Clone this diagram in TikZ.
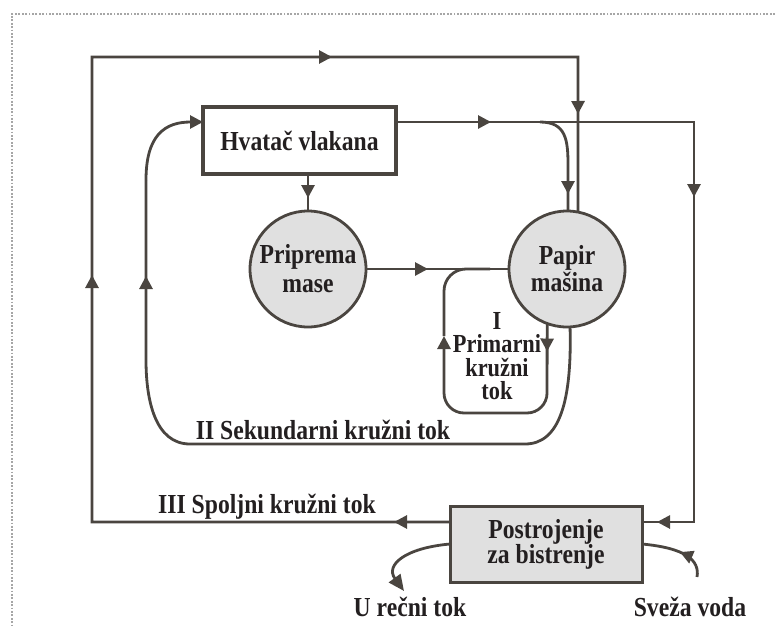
\documentclass[tikz,border=0pt]{standalone}
\usepackage{fontspec}
\setmainfont{Liberation Serif}[FakeStretch=0.86]
\usetikzlibrary{arrows.meta,decorations.markings}
\definecolor{flowline}{RGB}{74,69,64}
\definecolor{labeltext}{RGB}{35,31,32}
\definecolor{unitfill}{RGB}{224,224,224}

\begin{document}
\begin{tikzpicture}[x=1pt,y=-1pt,>={Triangle[length=13pt,width=13pt]}]
\tikzstyle{every node}=[font=\fontsize{27.5}{27}\selectfont\bfseries,
                        text=labeltext, align=center, inner sep=0pt]
\tikzstyle{unit}=[circle, draw=flowline, line width=2.8pt, fill=unitfill,
                  minimum size=116pt, outer sep=0pt]
\tikzstyle{block}=[rectangle, draw=flowline, outer sep=0pt]
\tikzstyle{pipe}=[draw=flowline, line width=2.8pt]
\tikzset{flow/.style={postaction={decorate, decoration={markings,
         mark=at position #1 with {\arrow[flowline]{>}}}}}}
\useasboundingbox (0,0) rectangle (775,626);
% dotted frame
\draw[gray!70, line width=1.8pt, dash pattern=on 1.8pt off 1.6pt] (775,14) -- (12,14) -- (12,626);
% units
\node[block, line width=3.8pt, fill=white, minimum width=193pt, minimum height=67pt] (hvatac) at (299.5,140.5) {Hvatač vlakana};
\node[unit, font=\fontsize{27.5}{29}\selectfont\bfseries] (priprema) at (308,269) {Priprema\\mase};
\node[unit] (papir) at (567,269) {Papir\\mašina};
\node[block, line width=3pt, fill=unitfill, minimum width=192pt, minimum height=76pt,
      font=\fontsize{27.5}{25}\selectfont\bfseries] (postrojenje) at (546,544) {Postrojenje\\za bistrenje};
% corner points
\coordinate (hvIn) at (203,122);
\coordinate (hvOut) at (396,122);
\coordinate (brA) at (540,122);
\coordinate (brB) at (568,165);
\coordinate (cr1) at (694,122);
\coordinate (cr2) at (694,522);
\coordinate (poIn) at (642,522);
\coordinate (poOut) at (450,522);
\coordinate (ol1) at (92,522);
\coordinate (ol2) at (92,57);
\coordinate (ol3) at (578,57);
\coordinate (sec1) at (525,444);
\coordinate (sec2) at (190,444);
\coordinate (sec3) at (146,360);
\coordinate (sec4) at (146,180);
\coordinate (pr1) at (547,413);
\coordinate (pr2) at (444,413);
\coordinate (pr3) at (444,336);
\coordinate (pr4) at (444,269);
\coordinate (pr5) at (490,269);
\coordinate (river) at (404,591);
\coordinate (fresh) at (697,577);
% flows
\draw[pipe, flow=24pt] (priprema.north |- hvatac.south) -- (priprema.north);
\draw[pipe, flow=62pt] (priprema.east) -- (papir.west);
\draw[pipe, flow=95pt, flow=373pt, flow=735pt] (hvOut) -- (cr1) -- (cr2) -- (poIn);
\draw[pipe, flow=-17pt] (brA) .. controls (566,122) and (568,140) .. (brB) -- (papir.89);
\draw[pipe, flow=56pt, flow=605pt, flow=1063pt, flow=1366pt] (poOut) -- (ol1) -- (ol2) -- (ol3) -- (papir.79);
% secondary loop
\draw[pipe, flow=-96pt] (papir.-87) .. controls (572,400) and (560,444) .. (sec1) -- (sec2)
      .. controls (155,444) and (146,400) .. (sec3) -- (sec4);
\draw[pipe, ->] (sec4) .. controls (146,135) and (165,122) .. (hvIn);
% primary loop
\draw[pipe, rounded corners=20pt, flow=28pt, ->] (papir.-110) -- (pr1) -- (pr2) -- (pr3);
\draw[pipe, rounded corners=22pt] (pr3) -- (pr4) -- (pr5);
% clarifier
\draw[pipe, -{Triangle[length=16pt,width=14pt]}] (postrojenje.west) .. controls (405,548) and (385,565) .. (river);
\draw[pipe, flow=33pt] (fresh) .. controls (700,560) and (685,548) .. (postrojenje.east);
% labels
\node[font=\fontsize{26}{23.5}\selectfont\bfseries] (primarni) at (497,356) {I\\Primarni\\kružni\\tok};
\node (sekundarni) at (323,430) {II Sekundarni kružni tok};
\node (spoljni) at (267,507) {III Spoljni kružni tok};
\node (recni) at (410,607) {U rečni tok};
\node (sveza) at (690,607) {Sveža voda};
\end{tikzpicture}
\end{document}
